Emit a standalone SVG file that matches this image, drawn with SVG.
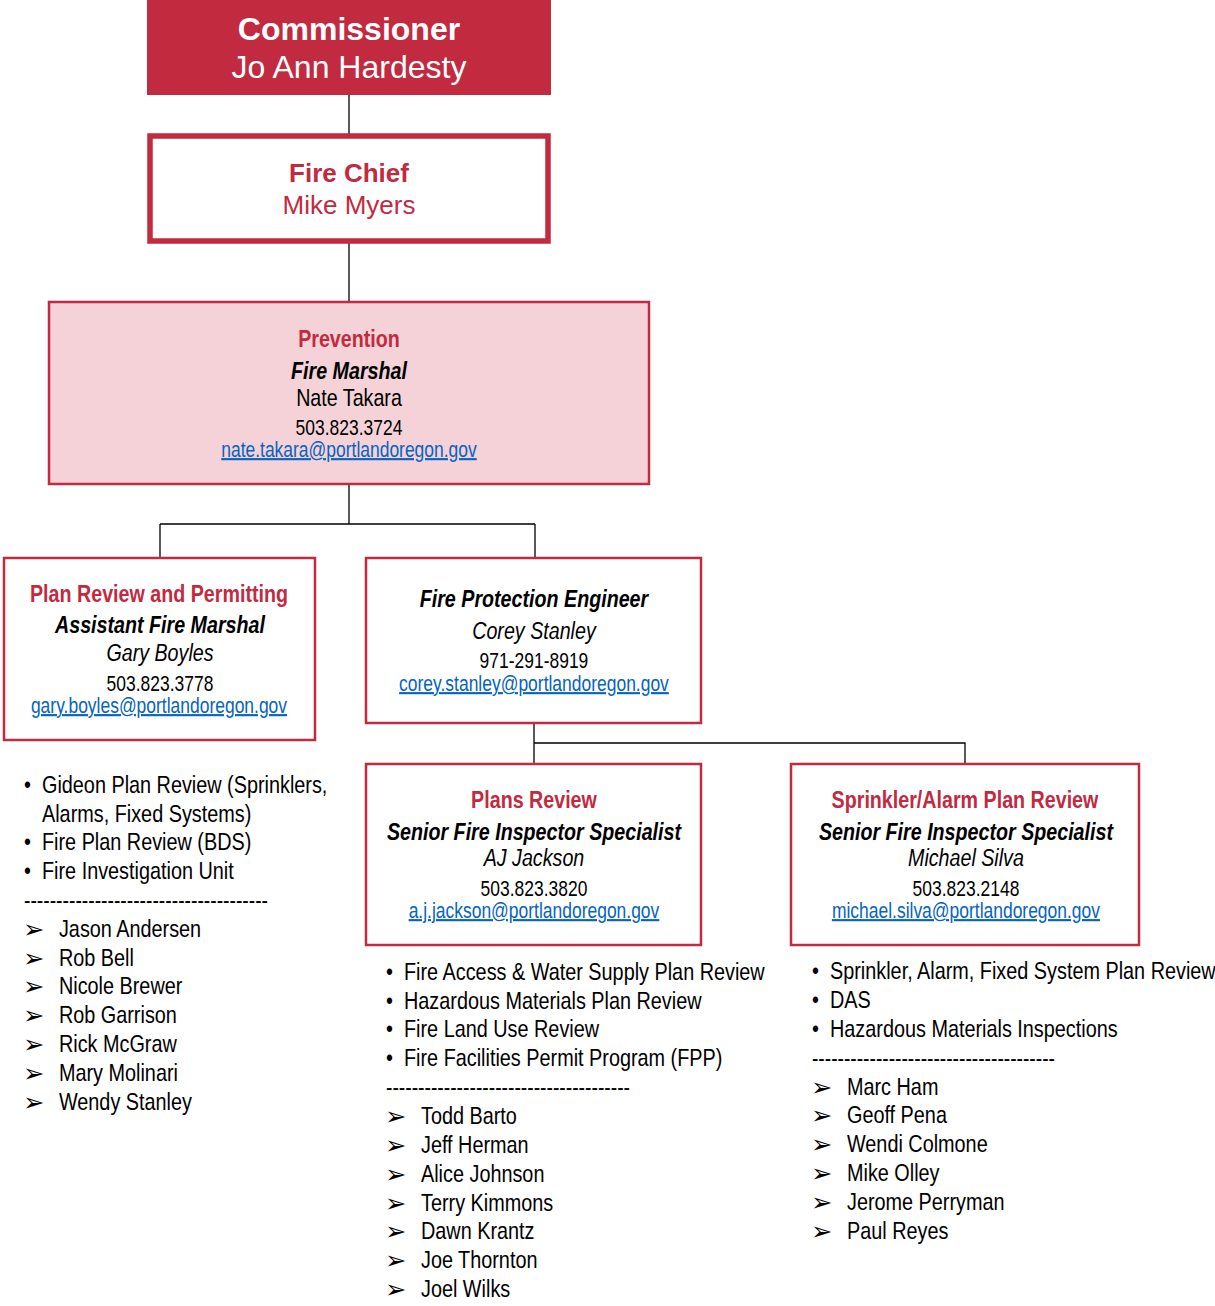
<svg xmlns="http://www.w3.org/2000/svg" width="1215" height="1306" viewBox="0 0 1215 1306">
<style>
.n{font-family:'Liberation Sans',Arial,sans-serif;transform:scale(0.82,1);}
.w{font-family:'Liberation Sans',Arial,sans-serif;}
.c{text-anchor:middle;}
.red{fill:#C12A3F;}
.b{font-weight:bold;}
.i{font-style:italic;}
.t{font-size:24px;fill:#000;}
.s{font-size:21.3px;fill:#000;}
.lk{font-size:21.3px;fill:#0563C1;text-decoration:underline;}
.li{font-size:24.2px;fill:#000;}
.ar{font-family:'DejaVu Sans',sans-serif;font-size:25.5px;fill:#000;}
.box{fill:#fff;stroke:#C12A3F;stroke-width:2.5;}
.ln{stroke:#000;stroke-width:1.3;fill:none;}
</style>
<rect width="1215" height="1306" fill="#fff"/>
<g id="connectors">
<path class="ln" d="M349 95V136M349 241V302M349 485V524M160 524H535M160 524V557M535 524V557M534 723V763M534 743H965V763"/>
</g>
<g id="commissioner">
<rect x="147" y="0" width="404" height="95" fill="#C12A3F"/>
<text class="w c b" x="349" y="40" font-size="32" fill="#fff">Commissioner</text>
<text class="w c" x="349" y="78" font-size="32" fill="#fff">Jo Ann Hardesty</text>
</g>
<g id="fire-chief">
<rect x="150" y="136" width="398" height="105" fill="#fff" stroke="#C12A3F" stroke-width="5.5"/>
<text class="w c b red" x="349" y="182" font-size="26">Fire Chief</text>
<text class="w c red" x="349" y="214" font-size="26">Mike Myers</text>
</g>
<g id="prevention">
<rect x="49" y="302" width="600" height="182" fill="#F5D2D7" stroke="#C12A3F" stroke-width="2.5"/>
<text class="n c b red" x="425.6" y="347" font-size="24">Prevention</text>
<text class="n c b i t" x="425.6" y="379">Fire Marshal</text>
<text class="n c t" x="425.6" y="406">Nate Takara</text>
<text class="n c s" x="425.6" y="435">503.823.3724</text>
<text class="n c lk" x="425.6" y="457">nate.takara@portlandoregon.gov</text>
</g>
<g id="plan-review-permitting">
<rect class="box" x="4" y="558" width="311" height="182"/>
<text class="n c b red" x="193.9" y="602" font-size="24">Plan Review and Permitting</text>
<text class="n c b i t" x="195.1" y="633">Assistant Fire Marshal</text>
<text class="n c i t" x="195.1" y="661">Gary Boyles</text>
<text class="n c s" x="195.1" y="691">503.823.3778</text>
<text class="n c lk" x="193.9" y="713">gary.boyles@portlandoregon.gov</text>
</g>
<g id="fire-protection-engineer">
<rect class="box" x="366" y="558" width="335" height="165"/>
<text class="n c b i t" x="651.2" y="607">Fire Protection Engineer</text>
<text class="n c i t" x="651.2" y="639">Corey Stanley</text>
<text class="n c s" x="651.2" y="668">971-291-8919</text>
<text class="n c lk" x="651.2" y="691">corey.stanley@portlandoregon.gov</text>
</g>
<g id="plans-review">
<rect class="box" x="366" y="764" width="335" height="181"/>
<text class="n c b red" x="651.2" y="808" font-size="24">Plans Review</text>
<text class="n c b i t" x="651.2" y="840">Senior Fire Inspector Specialist</text>
<text class="n c i t" x="651.2" y="866">AJ Jackson</text>
<text class="n c s" x="651.2" y="896">503.823.3820</text>
<text class="n c lk" x="651.2" y="918">a.j.jackson@portlandoregon.gov</text>
</g>
<g id="sprinkler-alarm-plan-review">
<rect class="box" x="791" y="764" width="348" height="181"/>
<text class="n c b red" x="1176.8" y="808" font-size="24">Sprinkler/Alarm Plan Review</text>
<text class="n c b i t" x="1178" y="840">Senior Fire Inspector Specialist</text>
<text class="n c i t" x="1178" y="866">Michael Silva</text>
<text class="n c s" x="1178" y="896">503.823.2148</text>
<text class="n c lk" x="1178" y="918">michael.silva@portlandoregon.gov</text>
</g>
<g id="list-plan-review-permitting">
<text class="n li" x="29.3" y="793">•</text><text class="n li" x="51.2" y="793">Gideon Plan Review (Sprinklers,</text>
<text class="n li" x="51.2" y="822">Alarms, Fixed Systems)</text>
<text class="n li" x="29.3" y="850">•</text><text class="n li" x="51.2" y="850">Fire Plan Review (BDS)</text>
<text class="n li" x="29.3" y="879">•</text><text class="n li" x="51.2" y="879">Fire Investigation Unit</text>
<text class="n li" x="29.3" y="908" textLength="297.6" lengthAdjust="spacingAndGlyphs">--------------------------------------</text>
<text class="ar" x="23" y="938">➢</text><text class="n li" x="71.9" y="937">Jason Andersen</text>
<text class="ar" x="23" y="967">➢</text><text class="n li" x="71.9" y="966">Rob Bell</text>
<text class="ar" x="23" y="995">➢</text><text class="n li" x="71.9" y="994">Nicole Brewer</text>
<text class="ar" x="23" y="1024">➢</text><text class="n li" x="71.9" y="1023">Rob Garrison</text>
<text class="ar" x="23" y="1053">➢</text><text class="n li" x="71.9" y="1052">Rick McGraw</text>
<text class="ar" x="23" y="1082">➢</text><text class="n li" x="71.9" y="1081">Mary Molinari</text>
<text class="ar" x="23" y="1111">➢</text><text class="n li" x="71.9" y="1110">Wendy Stanley</text>
</g>
<g id="list-plans-review">
<text class="n li" x="470.7" y="980">•</text><text class="n li" x="492.7" y="980">Fire Access &amp; Water Supply Plan Review</text>
<text class="n li" x="470.7" y="1009">•</text><text class="n li" x="492.7" y="1009">Hazardous Materials Plan Review</text>
<text class="n li" x="470.7" y="1037">•</text><text class="n li" x="492.7" y="1037">Fire Land Use Review</text>
<text class="n li" x="470.7" y="1066">•</text><text class="n li" x="492.7" y="1066">Fire Facilities Permit Program (FPP)</text>
<text class="n li" x="470.7" y="1095" textLength="297.6" lengthAdjust="spacingAndGlyphs">--------------------------------------</text>
<text class="ar" x="385" y="1125">➢</text><text class="n li" x="513.4" y="1124">Todd Barto</text>
<text class="ar" x="385" y="1154">➢</text><text class="n li" x="513.4" y="1153">Jeff Herman</text>
<text class="ar" x="385" y="1183">➢</text><text class="n li" x="513.4" y="1182">Alice Johnson</text>
<text class="ar" x="385" y="1212">➢</text><text class="n li" x="513.4" y="1211">Terry Kimmons</text>
<text class="ar" x="385" y="1240">➢</text><text class="n li" x="513.4" y="1239">Dawn Krantz</text>
<text class="ar" x="385" y="1269">➢</text><text class="n li" x="513.4" y="1268">Joe Thornton</text>
<text class="ar" x="385" y="1298">➢</text><text class="n li" x="513.4" y="1297">Joel Wilks</text>
</g>
<g id="list-sprinkler-alarm">
<text class="n li" x="990.2" y="979">•</text><text class="n li" x="1012.2" y="979">Sprinkler, Alarm, Fixed System Plan Review</text>
<text class="n li" x="990.2" y="1008">•</text><text class="n li" x="1012.2" y="1008">DAS</text>
<text class="n li" x="990.2" y="1037">•</text><text class="n li" x="1012.2" y="1037">Hazardous Materials Inspections</text>
<text class="n li" x="990.2" y="1066" textLength="296.3" lengthAdjust="spacingAndGlyphs">--------------------------------------</text>
<text class="ar" x="811" y="1096">➢</text><text class="n li" x="1032.9" y="1095">Marc Ham</text>
<text class="ar" x="811" y="1124">➢</text><text class="n li" x="1032.9" y="1123">Geoff Pena</text>
<text class="ar" x="811" y="1153">➢</text><text class="n li" x="1032.9" y="1152">Wendi Colmone</text>
<text class="ar" x="811" y="1182">➢</text><text class="n li" x="1032.9" y="1181">Mike Olley</text>
<text class="ar" x="811" y="1211">➢</text><text class="n li" x="1032.9" y="1210">Jerome Perryman</text>
<text class="ar" x="811" y="1240">➢</text><text class="n li" x="1032.9" y="1239">Paul Reyes</text>
</g>
</svg>
